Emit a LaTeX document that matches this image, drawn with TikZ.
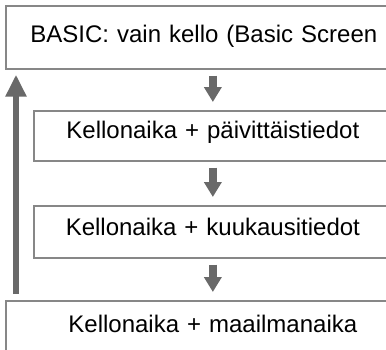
\documentclass[tikz,border=0pt]{standalone}
\usepackage{fontspec}
\setmainfont{Liberation Sans}
\usetikzlibrary{arrows.meta}
\definecolor{boxline}{RGB}{135,135,135}
\definecolor{arrowgray}{RGB}{105,105,105}
\tikzset{
  modebox/.style={draw=boxline, line width=1.7pt, fill=white, rectangle,
    inner xsep=0pt, inner ysep=0pt, anchor=north west,
    font=\fontsize{24}{24}\selectfont},
  steparrow/.style={draw=arrowgray, line width=8pt,
    -{Triangle[width=17pt,length=15pt]}, shorten <=6pt, shorten >=8pt},
  backarrow/.style={draw=arrowgray, line width=6.5pt,
    -{Triangle[width=20pt,length=22pt]}, shorten <=6pt, shorten >=5pt},
}
\begin{document}
\begin{tikzpicture}[x=1pt,y=-1pt]
  \useasboundingbox (0,0) rectangle (386,349);
  \clip (0,0) rectangle (386,349);

  % mode screens, cycled by the button
  \node[modebox, text width=396pt, align=center, text height=37pt, text depth=26pt]
    (basic) at (5,5) {BASIC: vain kello (Basic Screen};
  \node[modebox, text width=358pt, align=center, text height=28pt, text depth=22pt]
    (daily) at (33,110) {Kellonaika + päivittäistiedot};
  \node[modebox, text width=358pt, align=center, text height=30pt, text depth=22pt]
    (monthly) at (33,205) {Kellonaika + kuukausitiedot};
  \node[modebox, text width=414pt, align=center, text height=32pt, text depth=48pt]
    (world) at (5,300) {Kellonaika + maailmanaika};

  % forward steps
  \draw[steparrow] (basic.south -| daily.north) -- (daily.north);
  \draw[steparrow] (daily.south) -- (monthly.north);
  \draw[steparrow] (monthly.south) -- (monthly.south |- world.north);

  % return to the basic screen
  \coordinate (backstart) at ([xshift=11pt]world.north west);
  \coordinate (backend) at ([xshift=11pt]basic.south west);
  \draw[backarrow] (backstart) -- (backend);
\end{tikzpicture}
\end{document}
